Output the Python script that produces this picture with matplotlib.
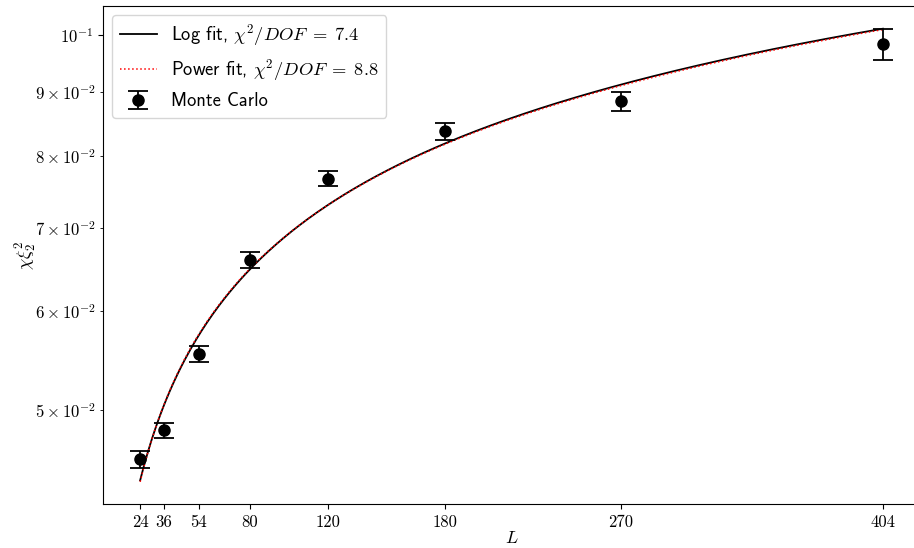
import numpy as np
import matplotlib
matplotlib.use('Agg')
import matplotlib.pyplot as plt

plt.rcParams['font.family'] = 'serif'
plt.rcParams['font.serif'] = ['cmr10']
plt.rcParams['mathtext.fontset'] = 'cm'
plt.rcParams['axes.formatter.use_mathtext'] = True

# Monte Carlo data
L = np.array([24, 36, 54, 80, 120, 180, 270, 404])
chi_xi2 = np.array([0.04565, 0.04816, 0.05544, 0.06596, 0.07666, 0.08367, 0.08841, 0.09830])
chi_xi2_err = np.array([0.0007, 0.0007, 0.0008, 0.0010, 0.0011, 0.0013, 0.0015, 0.0028])

# fit parameters
log_a, log_b, log_c = 0.01385, 0.003739, 0.0018      # a + b ln L + c ln^2 L
pow_c, pow_a, pow_p = -0.0490, 0.05406, 0.17         # c + a L^p

chi2_log = 7.4
chi2_pow = 8.8

Lf = np.linspace(L.min(), L.max(), 400)
y_log = log_a + log_b * np.log(Lf) + log_c * np.log(Lf) ** 2
y_pow = pow_c + pow_a * Lf ** pow_p

fig = plt.figure(figsize=(9.14, 5.48), dpi=100)
ax = fig.add_axes([0.1127, 0.0794, 0.8939, 0.9096])

ax.plot(Lf, y_log, 'k-', lw=1.3, label=r'Log fit, $\chi^2/DOF\;=\;%.1f$' % chi2_log)
ax.plot(Lf, y_pow, 'r:', lw=1.1, label=r'Power fit, $\chi^2/DOF\;=\;%.1f$' % chi2_pow)
ax.errorbar(L, chi_xi2, yerr=chi_xi2_err, fmt='o', color='k', ms=8,
            capsize=7.5, elinewidth=1.3, capthick=1.3, label='Monte Carlo')

ax.set_yscale('log')
ax.set_xlim(5, 423)
ax.set_xticks(L)
ax.set_xticklabels([str(v) for v in L])
ax.tick_params(labelsize=12)
ax.tick_params(which='minor', labelsize=12)
ax.spines['right'].set_visible(False)
ax.set_xlabel(r'$L$', fontsize=13, labelpad=0)
ax.set_ylabel(r'$\chi\xi_2^2$', fontsize=13, labelpad=-3)

ax.legend(loc='upper left', prop={'family': 'cmss10', 'size': 13.3})

fig.savefig('out.png', dpi=100)
